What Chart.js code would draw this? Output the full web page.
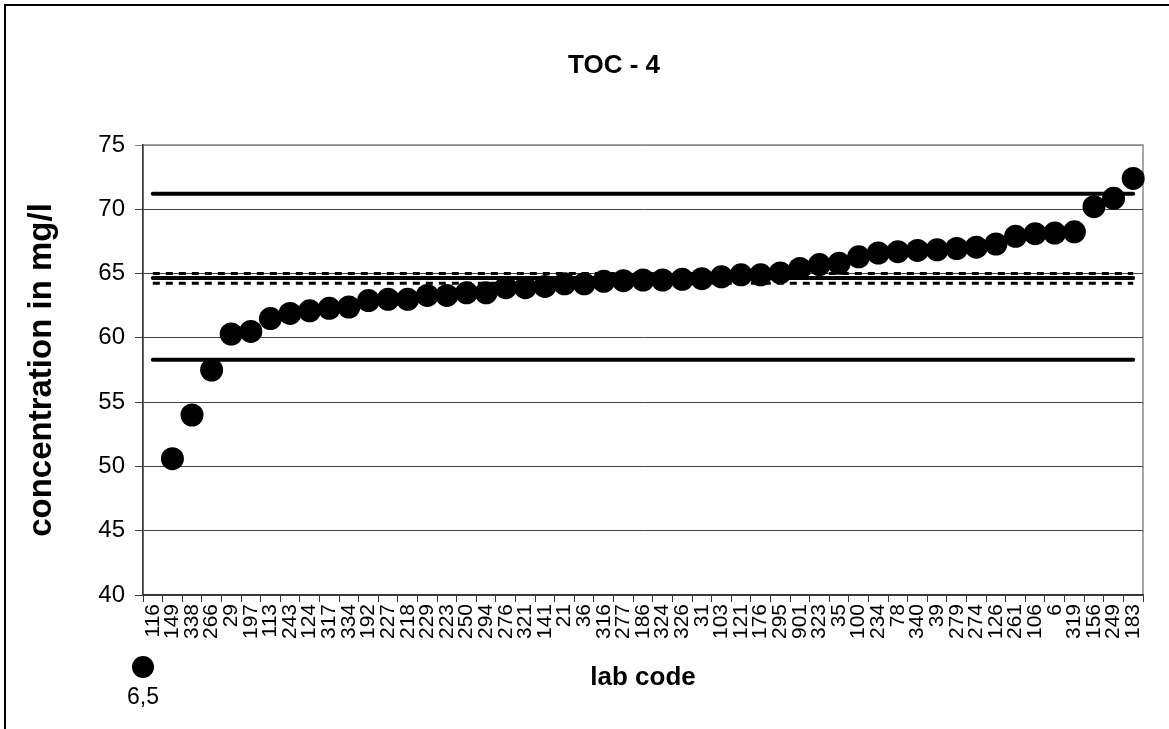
<!DOCTYPE html>
<html>
<head>
<meta charset="utf-8">
<script src="https://cdn.jsdelivr.net/npm/chart.js@4"></script>
<style>
  html, body { margin: 0; padding: 0; background: #fff; }
  #wrap { position: relative; width: 1169px; height: 729px; }
</style>
</head>
<body>
<div id="wrap"><canvas id="chart" width="1169" height="729"></canvas></div>
<script>
// Lab codes, in the order they appear on the x axis
const labCodes = ["116", "149", "338", "266", "29", "197", "113", "243", "124", "317",
  "334", "192", "227", "218", "229", "223", "250", "294", "276", "321",
  "141", "21", "36", "316", "277", "186", "324", "326", "31", "103",
  "121", "176", "295", "901", "323", "35", "100", "234", "78", "340",
  "39", "279", "274", "126", "261", "106", "6", "319", "156", "249", "183"];

// Reported concentrations (mg/l)
const concentrations = [6.5, 50.6, 54.0, 57.5, 60.3, 60.5, 61.5, 61.9, 62.1, 62.3,
  62.4, 62.9, 63.0, 63.0, 63.3, 63.3, 63.5, 63.5, 63.9, 63.9,
  64.0, 64.2, 64.2, 64.4, 64.45, 64.5, 64.5, 64.55, 64.6, 64.75,
  64.9, 64.9, 65.05, 65.4, 65.7, 65.8, 66.3, 66.6, 66.7, 66.8,
  66.85, 66.95, 67.05, 67.3, 67.9, 68.1, 68.15, 68.25, 70.2, 70.85, 72.4];

// Reference lines
const upperLimit = 71.2;
const lowerLimit = 58.3;
const assignedValue = 64.65;
const ciUpper = 65.0;
const ciLower = 64.25;

// Y axis ticks
const yMin = 40;
const yMax = 75;
const yStep = 5;

const chartTitle = "TOC - 4";
const FONT = "'Liberation Sans', Arial, sans-serif";

// horizontal line from first to last lab code
function refLine(value) {
  return [
    { x: labCodes[0], y: value },
    { x: labCodes[labCodes.length - 1], y: value },
  ];
}

// Frame around the whole chart, plot area border and the title
const framePlugin = {
  id: "frame",
  beforeDraw(chart) {
    const ctx = chart.ctx;
    const a = chart.chartArea;
    ctx.save();
    ctx.fillStyle = "#fff";
    ctx.fillRect(0, 0, chart.width, chart.height);
    ctx.strokeStyle = "#000";
    ctx.lineWidth = 2;
    ctx.beginPath();
    ctx.moveTo(5, chart.height);
    ctx.lineTo(5, 5);
    ctx.lineTo(chart.width, 5);
    ctx.stroke();
    ctx.strokeStyle = "#888";
    ctx.lineWidth = 1.5;
    ctx.strokeRect(a.left, a.top, a.right - a.left, a.bottom - a.top);

    ctx.fillStyle = "#000";
    ctx.font = "bold 26px " + FONT;
    ctx.textAlign = "center";
    ctx.textBaseline = "middle";
    ctx.fillText(chartTitle, 614, 66);
    ctx.restore();
  },
};

// Values below the axis minimum are shown under the axis with their value
const outlierPlugin = {
  id: "outliers",
  afterDraw(chart) {
    const ctx = chart.ctx;
    const xScale = chart.scales.x;
    const yScale = chart.scales.y;
    ctx.save();
    concentrations.forEach((v, i) => {
      if (v >= yScale.min) return;
      const x = xScale.getPixelForValue(i) - xScale.width / labCodes.length / 2;
      const y = yScale.bottom + 72;
      ctx.fillStyle = "#000";
      ctx.beginPath();
      ctx.arc(x, y, 11, 0, Math.PI * 2);
      ctx.fill();
      ctx.font = "23px " + FONT;
      ctx.textAlign = "center";
      ctx.textBaseline = "middle";
      ctx.fillText(String(v).replace(".", ","), x, y + 31);
    });
    ctx.restore();
  },
};

const ctx = document.getElementById("chart").getContext("2d");

new Chart(ctx, {
  type: "line",
  data: {
    labels: labCodes,
    datasets: [
      {
        label: "results",
        data: concentrations,
        showLine: false,
        pointRadius: 11.5,
        pointHoverRadius: 11.5,
        pointBackgroundColor: "#000",
        pointBorderWidth: 0,
        borderWidth: 0,
        order: 0,
      },
      {
        label: "upper limit",
        data: refLine(upperLimit),
        borderColor: "#000",
        borderWidth: 4,
        borderCapStyle: "round",
        pointRadius: 0,
        order: 1,
      },
      {
        label: "lower limit",
        data: refLine(lowerLimit),
        borderColor: "#000",
        borderWidth: 4,
        borderCapStyle: "round",
        pointRadius: 0,
        order: 1,
      },
      {
        label: "assigned value",
        data: refLine(assignedValue),
        borderColor: "#000",
        borderWidth: 4,
        borderCapStyle: "round",
        pointRadius: 0,
        order: 1,
      },
      {
        label: "uncertainty upper",
        data: refLine(ciUpper),
        borderColor: "#000",
        borderWidth: 3,
        borderDash: [7, 6],
        pointRadius: 0,
        order: 1,
      },
      {
        label: "uncertainty lower",
        data: refLine(ciLower),
        borderColor: "#000",
        borderWidth: 3,
        borderDash: [7, 6],
        pointRadius: 0,
        order: 1,
      },
    ],
  },
  options: {
    responsive: false,
    animation: false,
    layout: {
      padding: { left: 0, right: 26, top: 145, bottom: 0 },
    },
    plugins: {
      legend: { display: false },
      tooltip: { enabled: false },
      title: { display: false },
    },
    scales: {
      x: {
        offset: true,
        grid: {
          display: true,
          drawOnChartArea: false,
          drawTicks: true,
          tickLength: 7,
          offset: true,
          color: "#333",
        },
        border: { display: true, color: "#333", width: 1.5 },
        ticks: {
          autoSkip: false,
          minRotation: 90,
          maxRotation: 90,
          padding: 2,
          color: "#000",
          font: { family: FONT, size: 21 },
        },
        title: {
          display: true,
          text: "lab code",
          color: "#000",
          font: { family: FONT, size: 26, weight: "bold" },
          padding: { top: 0, bottom: 36 },
        },
        afterFit(scale) {
          scale.height = 134;
        },
      },
      y: {
        min: yMin,
        max: yMax,
        ticks: {
          stepSize: yStep,
          padding: 10,
          color: "#000",
          font: { family: FONT, size: 24 },
        },
        grid: {
          color: (c) => (c.tick && c.tick.value === yMax ? "#888" : "#444"),
          lineWidth: 1,
          drawTicks: true,
          tickLength: 8,
        },
        border: { display: true, color: "#333", width: 1.5 },
        title: {
          display: true,
          text: "concentration in mg/l",
          color: "#000",
          font: { family: FONT, size: 33, weight: "bold" },
          padding: { top: 22, bottom: 0 },
        },
        afterFit(scale) {
          scale.width = 143;
        },
      },
    },
  },
  plugins: [framePlugin, outlierPlugin],
});
</script>
</body>
</html>
